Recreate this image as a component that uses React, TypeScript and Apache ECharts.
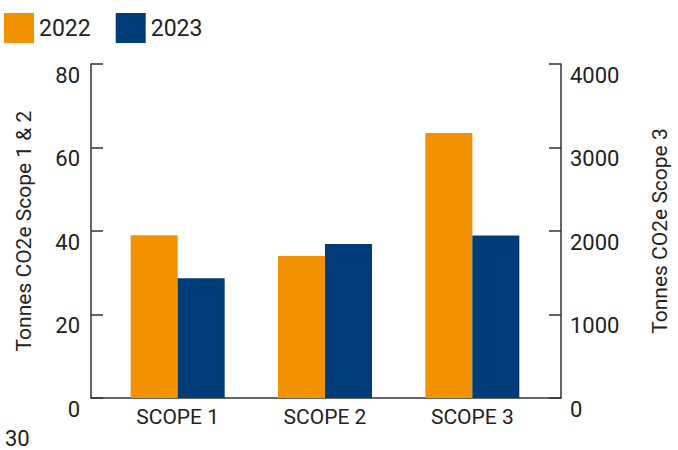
import React, { useEffect, useRef } from "react";
import * as echarts from "echarts";

const categories = ["SCOPE 1", "SCOPE 2", "SCOPE 3"];
// Scope 1 & 2 on the left axis (tonnes), Scope 3 on the right axis
const scope12_2022 = [39, 34, "-"];
const scope12_2023 = [28.7, 36.9, "-"];
const scope3_2022 = ["-", "-", 3175];
const scope3_2023 = ["-", "-", 1945];
const leftTicks = { min: 0, max: 80, interval: 20 };
const rightTicks = { min: 0, max: 4000, interval: 1000 };

const ORANGE = "#F39200";
const BLUE = "#003D78";
const TEXT = "#222222";
const AXIS = "#333333";
const FONT = "Roboto";

export default function App() {
  const ref = useRef<HTMLDivElement>(null);
  useEffect(() => {
    if (!ref.current) return;
    const chart = echarts.init(ref.current, null, { renderer: "svg" });
    const axisLineStyle = { show: true, lineStyle: { color: AXIS, width: 1.5 } };
    const tickStyle = { show: true, inside: true, length: 12, lineStyle: { color: AXIS, width: 1.5 } };
    chart.setOption({
      animation: false,
      textStyle: { fontFamily: FONT },
      legend: {
        data: ["2022", "2023"],
        left: 4,
        top: 13,
        padding: 0,
        itemWidth: 30,
        itemHeight: 30,
        itemGap: 25,
        icon: "rect",
        textStyle: { fontSize: 23, color: TEXT, fontFamily: FONT },
      },
      grid: [
        { left: 91, right: 112, top: 64, bottom: 52 },
        { left: 104, right: 132, top: 64, bottom: 52 },
      ],
      xAxis: [
        {
          gridIndex: 0,
          type: "value",
          min: 0,
          max: 1,
          axisLine: axisLineStyle,
          axisTick: { show: false },
          axisLabel: { show: false },
          splitLine: { show: false },
        },
        {
          gridIndex: 1,
          type: "category",
          data: categories,
          axisLine: { show: false },
          axisTick: { show: false },
          axisLabel: { fontSize: 21, color: TEXT, margin: 8, fontFamily: FONT },
        },
      ],
      yAxis: [
        {
          gridIndex: 0,
          type: "value",
          position: "left",
          ...leftTicks,
          axisLine: axisLineStyle,
          axisTick: tickStyle,
          splitLine: { show: false },
          axisLabel: { fontSize: 22, color: TEXT, margin: 11, verticalAlign: "top", fontFamily: FONT },
          name: "Tonnes CO2e Scope 1 & 2",
          nameLocation: "middle",
          nameGap: 57,
          nameTextStyle: { fontSize: 21, color: TEXT, fontFamily: FONT },
        },
        {
          gridIndex: 0,
          type: "value",
          position: "right",
          ...rightTicks,
          axisLine: axisLineStyle,
          axisTick: tickStyle,
          splitLine: { show: false },
          axisLabel: {
            fontSize: 22,
            color: TEXT,
            margin: 9,
            verticalAlign: "top",
            fontFamily: FONT,
            formatter: (v: number) => String(v),
          },
          name: "Tonnes CO2e Scope 3",
          nameLocation: "middle",
          nameGap: 88,
          nameTextStyle: { fontSize: 21, color: TEXT, fontFamily: FONT },
        },
        { gridIndex: 1, type: "value", ...leftTicks, show: false },
        { gridIndex: 1, type: "value", ...rightTicks, show: false },
      ],
      series: [
        { name: "2022", type: "bar", xAxisIndex: 1, yAxisIndex: 2, stack: "y2022", data: scope12_2022, barWidth: 47, barGap: "0%", itemStyle: { color: ORANGE } },
        { name: "2023", type: "bar", xAxisIndex: 1, yAxisIndex: 2, stack: "y2023", data: scope12_2023, barWidth: 47, barGap: "0%", itemStyle: { color: BLUE } },
        { name: "2022", type: "bar", xAxisIndex: 1, yAxisIndex: 3, stack: "y2022", data: scope3_2022, barWidth: 47, barGap: "0%", itemStyle: { color: ORANGE } },
        { name: "2023", type: "bar", xAxisIndex: 1, yAxisIndex: 3, stack: "y2023", data: scope3_2023, barWidth: 47, barGap: "0%", itemStyle: { color: BLUE } },
      ],
      graphic: [
        {
          type: "text",
          left: 5,
          top: 427,
          style: { text: "30", fontSize: 22, lineHeight: 22, fill: TEXT, fontFamily: FONT },
        },
      ],
    });
    return () => chart.dispose();
  }, []);
  return (
    <div
      ref={ref}
      style={{ position: "fixed", left: 0, top: 0, width: 678, height: 450, background: "#fff" }}
    />
  );
}
